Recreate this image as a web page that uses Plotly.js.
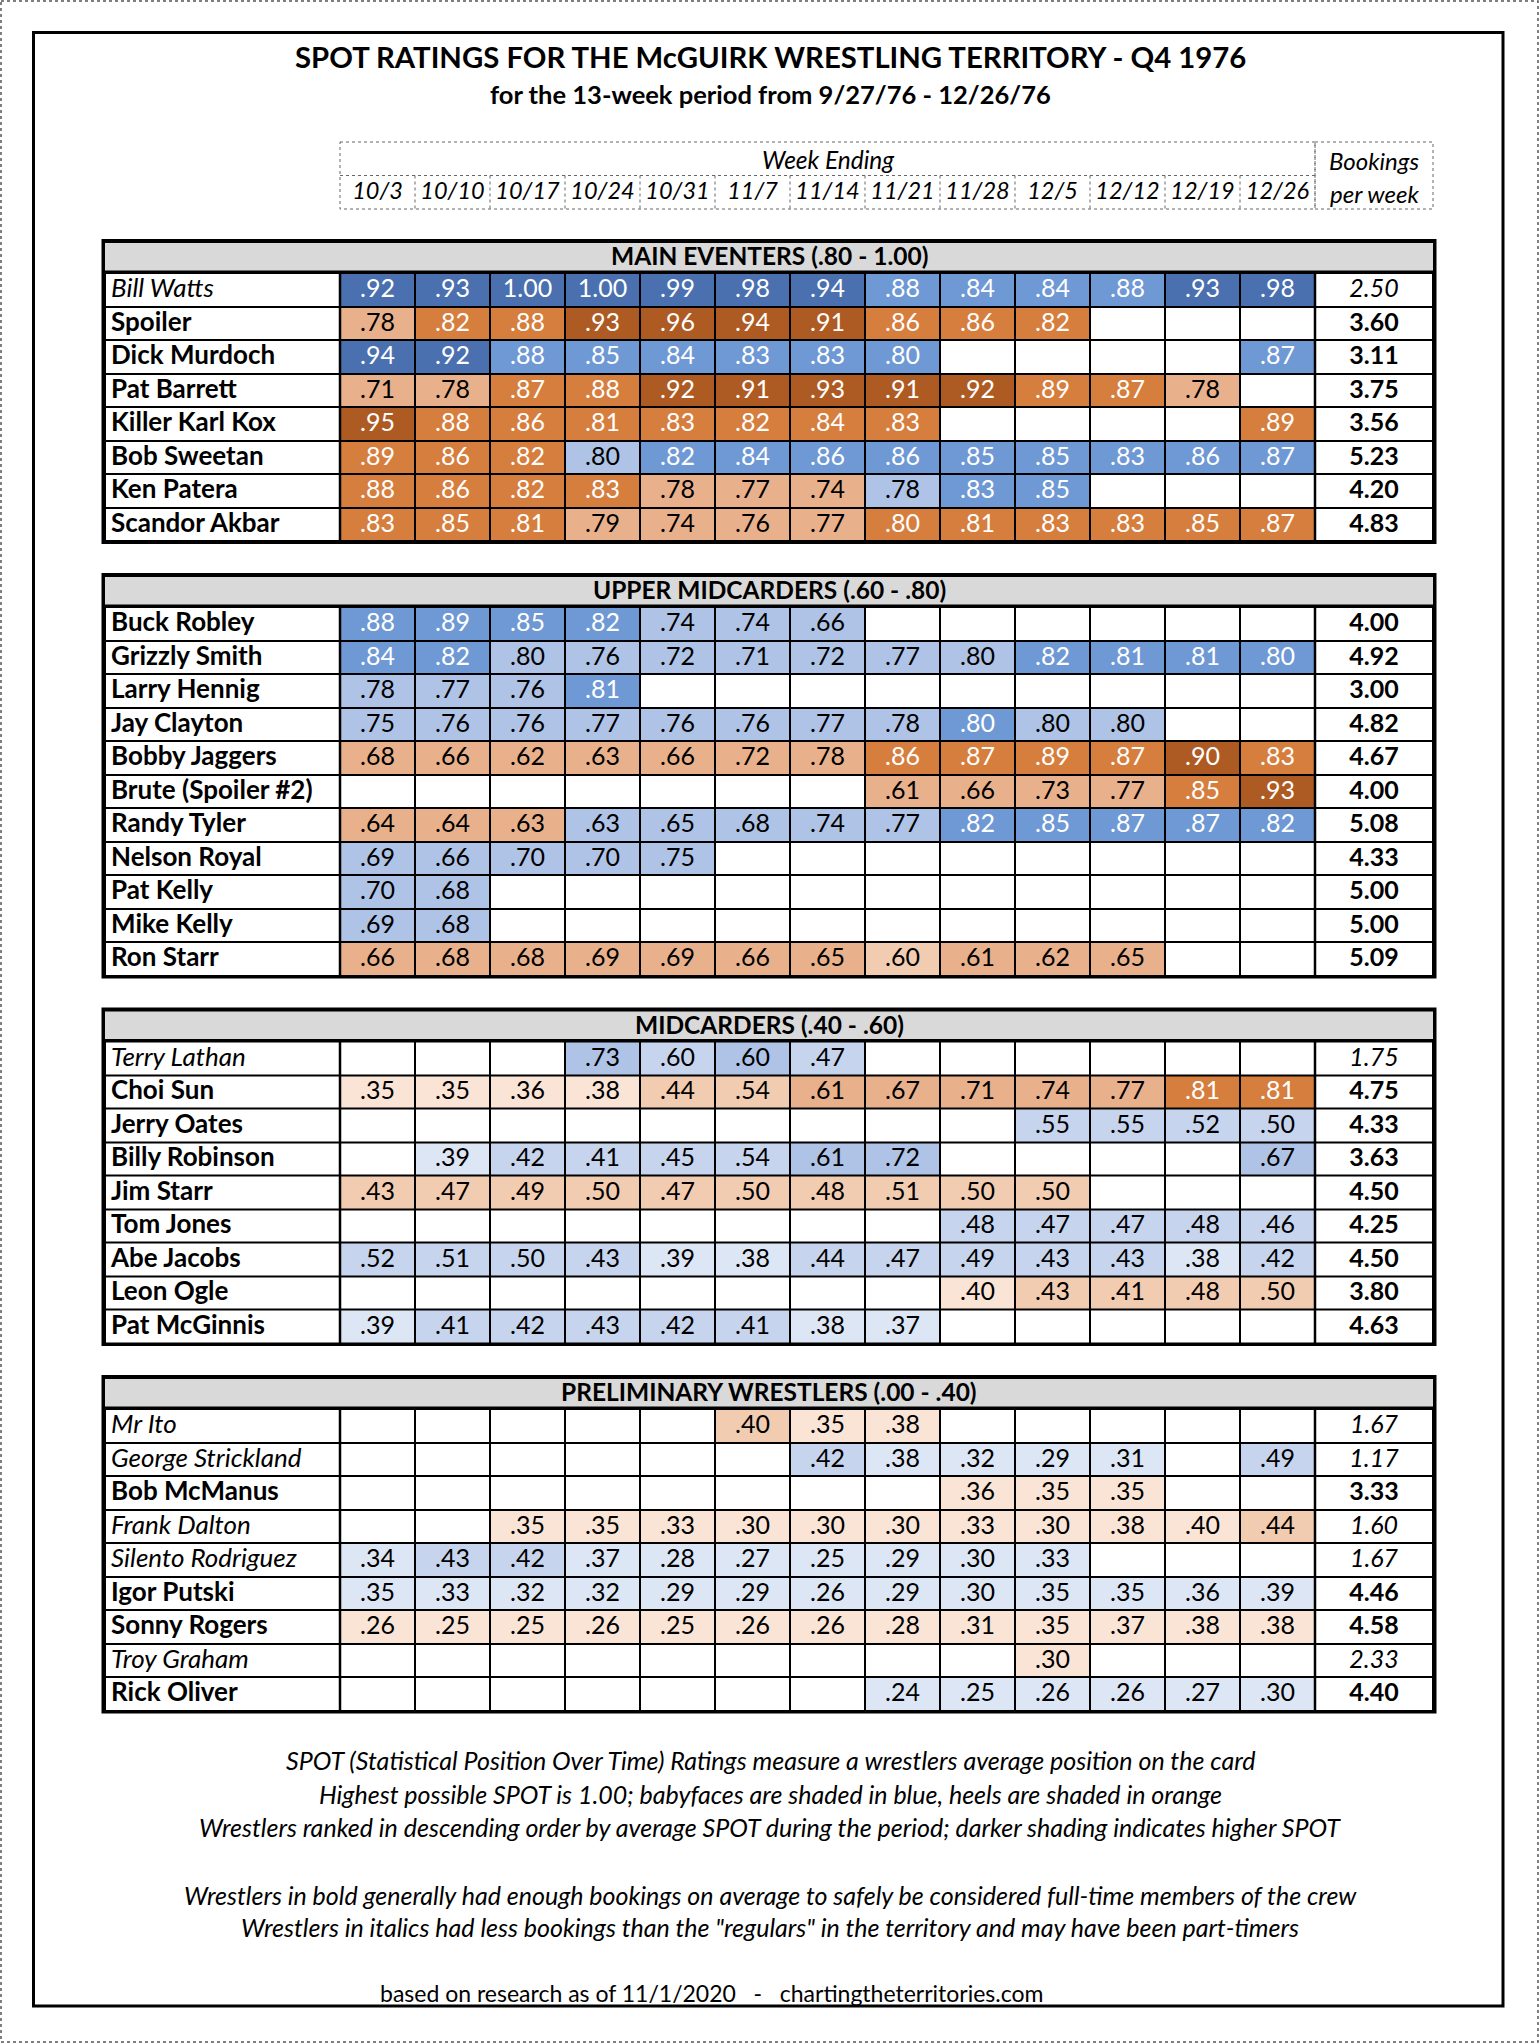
<!DOCTYPE html>
<html>
<head>
<meta charset="utf-8">
<script src="https://cdn.plot.ly/plotly-3.0.1.min.js"></script>
<style>
  html, body { margin: 0; padding: 0; background: #fff; }
  #chart { width: 1539px; height: 2043px; }
</style>
</head>
<body>
<div id="chart"></div>
<script>
// week columns
var weeks = ['10/3', '10/10', '10/17', '10/24', '10/31', '11/7', '11/14', '11/21', '11/28', '12/5', '12/12', '12/19', '12/26'];

// turn strings: F = babyface (blue), H = heel (orange), one letter per week
// regular: 1 = bold (full-time), 0 = italic (part-timer)

// MAIN EVENTERS
var mainNames = ['Bill Watts', 'Spoiler', 'Dick Murdoch', 'Pat Barrett', 'Killer Karl Kox', 'Bob Sweetan', 'Ken Patera', 'Scandor Akbar'];
var mainRegular = [0, 1, 1, 1, 1, 1, 1, 1];
var mainTurn = ['FFFFFFFFFFFFF', 'HHHHHHHHHHHHH', 'FFFFFFFFFFFFF', 'HHHHHHHHHHHHH', 'HHHHHHHHHHHHH',
                'HHHFFFFFFFFFF', 'HHHHHHHFFFFFF', 'HHHHHHHHHHHHH'];
var mainSpot = [
  [.92, .93, 1.00, 1.00, .99, .98, .94, .88, .84, .84, .88, .93, .98],
  [.78, .82, .88, .93, .96, .94, .91, .86, .86, .82, null, null, null],
  [.94, .92, .88, .85, .84, .83, .83, .80, null, null, null, null, .87],
  [.71, .78, .87, .88, .92, .91, .93, .91, .92, .89, .87, .78, null],
  [.95, .88, .86, .81, .83, .82, .84, .83, null, null, null, null, .89],
  [.89, .86, .82, .798, .82, .84, .86, .86, .85, .85, .83, .86, .87],
  [.88, .86, .82, .83, .78, .77, .74, .78, .83, .85, null, null, null],
  [.83, .85, .81, .79, .74, .76, .77, .80, .81, .83, .83, .85, .87]
];
var mainBookings = [2.50, 3.60, 3.11, 3.75, 3.56, 5.23, 4.20, 4.83];

// UPPER MIDCARDERS
var upperNames = ['Buck Robley', 'Grizzly Smith', 'Larry Hennig', 'Jay Clayton', 'Bobby Jaggers', 'Brute (Spoiler #2)',
                  'Randy Tyler', 'Nelson Royal', 'Pat Kelly', 'Mike Kelly', 'Ron Starr'];
var upperRegular = [1, 1, 1, 1, 1, 1, 1, 1, 1, 1, 1];
var upperTurn = ['FFFFFFFFFFFFF', 'FFFFFFFFFFFFF', 'FFFFFFFFFFFFF', 'FFFFFFFFFFFFF', 'HHHHHHHHHHHHH', 'HHHHHHHHHHHHH',
                 'HHHFFFFFFFFFF', 'FFFFFFFFFFFFF', 'FFFFFFFFFFFFF', 'FFFFFFFFFFFFF', 'HHHHHHHHHHHHH'];
var upperSpot = [
  [.88, .89, .85, .82, .74, .74, .66, null, null, null, null, null, null],
  [.84, .82, .798, .76, .72, .71, .72, .77, .797, .82, .81, .81, .80],
  [.78, .77, .76, .81, null, null, null, null, null, null, null, null, null],
  [.75, .76, .76, .77, .76, .76, .77, .78, .80, .798, .796, null, null],
  [.68, .66, .62, .63, .66, .72, .78, .86, .87, .89, .87, .90, .83],
  [null, null, null, null, null, null, null, .61, .66, .73, .77, .85, .93],
  [.64, .64, .63, .63, .65, .68, .74, .77, .82, .85, .87, .87, .82],
  [.69, .66, .70, .70, .75, null, null, null, null, null, null, null, null],
  [.70, .68, null, null, null, null, null, null, null, null, null, null, null],
  [.69, .68, null, null, null, null, null, null, null, null, null, null, null],
  [.66, .68, .68, .69, .69, .66, .65, .598, .61, .62, .65, null, null]
];
var upperBookings = [4.00, 4.92, 3.00, 4.82, 4.67, 4.00, 5.08, 4.33, 5.00, 5.00, 5.09];

// MIDCARDERS
var midNames = ['Terry Lathan', 'Choi Sun', 'Jerry Oates', 'Billy Robinson', 'Jim Starr', 'Tom Jones', 'Abe Jacobs', 'Leon Ogle', 'Pat McGinnis'];
var midRegular = [0, 1, 1, 1, 1, 1, 1, 1, 1];
var midTurn = ['FFFFFFFFFFFFF', 'HHHHHHHHHHHHH', 'FFFFFFFFFFFFF', 'FFFFFFFFFFFFF', 'HHHHHHHHHHHHH',
               'FFFFFFFFFFFFF', 'FFFFFFFFFFFFF', 'HHHHHHHHHHHHH', 'FFFFFFFFFFFFF'];
var midSpot = [
  [null, null, null, .73, .598, .60, .47, null, null, null, null, null, null],
  [.35, .35, .36, .38, .44, .54, .61, .67, .71, .74, .77, .81, .81],
  [null, null, null, null, null, null, null, null, null, .55, .55, .52, .50],
  [null, .39, .42, .41, .45, .54, .61, .72, null, null, null, null, .67],
  [.43, .47, .49, .50, .47, .50, .48, .51, .50, .50, null, null, null],
  [null, null, null, null, null, null, null, null, .48, .47, .47, .48, .46],
  [.52, .51, .50, .43, .39, .38, .44, .47, .49, .43, .43, .38, .42],
  [null, null, null, null, null, null, null, null, .398, .43, .41, .48, .50],
  [.39, .41, .42, .43, .42, .41, .38, .37, null, null, null, null, null]
];
var midBookings = [1.75, 4.75, 4.33, 3.63, 4.50, 4.25, 4.50, 3.80, 4.63];

// PRELIMINARY WRESTLERS
var prelimNames = ['Mr Ito', 'George Strickland', 'Bob McManus', 'Frank Dalton', 'Silento Rodriguez', 'Igor Putski',
                   'Sonny Rogers', 'Troy Graham', 'Rick Oliver'];
var prelimRegular = [0, 0, 1, 0, 0, 1, 1, 0, 1];
var prelimTurn = ['HHHHHHHHHHHHH', 'FFFFFFFFFFFFF', 'HHHHHHHHHHHHH', 'HHHHHHHHHHHHH', 'FFFFFFFFFFFFF',
                  'FFFFFFFFFFFFF', 'HHHHHHHHHHHHH', 'HHHHHHHHHHHHH', 'FFFFFFFFFFFFF'];
var prelimSpot = [
  [null, null, null, null, null, .40, .35, .38, null, null, null, null, null],
  [null, null, null, null, null, null, .42, .38, .32, .29, .31, null, .49],
  [null, null, null, null, null, null, null, null, .36, .35, .35, null, null],
  [null, null, .35, .35, .33, .30, .30, .30, .33, .30, .38, .398, .44],
  [.34, .43, .42, .37, .28, .27, .25, .29, .30, .33, null, null, null],
  [.35, .33, .32, .32, .29, .29, .26, .29, .30, .35, .35, .36, .39],
  [.26, .25, .25, .26, .25, .26, .26, .28, .31, .35, .37, .38, .38],
  [null, null, null, null, null, null, null, null, null, .30, null, null, null],
  [null, null, null, null, null, null, null, .24, .25, .26, .26, .27, .30]
];
var prelimBookings = [1.67, 1.17, 3.33, 1.60, 1.67, 4.46, 4.58, 2.33, 4.40];

var notes = [
  'SPOT (Statistical Position Over Time) Ratings measure a wrestlers average position on the card',
  'Highest possible SPOT is 1.00; babyfaces are shaded in blue, heels are shaded in orange',
  'Wrestlers ranked in descending order by average SPOT during the period; darker shading indicates higher SPOT',
  'Wrestlers in bold generally had enough bookings on average to safely be considered full-time members of the crew',
  'Wrestlers in italics had less bookings than the "regulars" in the territory and may have been part-timers'
];

// ---- layout constants ----
var W = 1539, H = 2043;
var FONT = 'Lato, "Open Sans", sans-serif';
var TX0 = 105, NAME_R = 340, COL_W = 75, BOOK_R = 1433;
var ROW_H = 33.5, HEAD_H = 34, SECTION_GAP = 32;
var CELL_SIZE = 25, NAME_SIZE = 26;

// shade palettes, lightest to darkest
var blues = ['#dde6f4', '#c6d5ed', '#aec3e5', '#6f99d4', '#4a70b0'];
var oranges = ['#fae4d5', '#f2ccb1', '#e8b18b', '#d67e3d', '#ae5b23'];
var palette = ['#ffffff'].concat(blues, oranges);
var colorscale = [];
palette.forEach(function (c, i) {
  colorscale.push([i / palette.length, c]);
  colorscale.push([(i + 1) / palette.length, c]);
});

function tier(v) {
  if (v < .4) return 0;
  if (v < .6) return 1;
  if (v < .8) return 2;
  if (v < .9) return 3;
  return 4;
}
function fmt(v) {
  return v.toFixed(2).replace(/^0/, '');
}

var xEdges = [TX0, NAME_R];
for (var i = 1; i <= weeks.length; i++) xEdges.push(NAME_R + i * COL_W);
xEdges.push(BOOK_R);
var colMid = weeks.map(function (w, i) { return NAME_R + (i + 0.5) * COL_W; });

var data = [];
var shapes = [];
var annotations = [];

function addSection(title, names, spot, turn, bookings, regular, top) {
  var rowsTop = top + HEAD_H;
  var rowsBottom = rowsTop + names.length * ROW_H;

  // black frame behind the cells, and gray title band
  shapes.push({type: 'rect', layer: 'below', x0: TX0 - 3.5, x1: BOOK_R + 3.5, y0: top, y1: rowsBottom + 3,
               fillcolor: '#000', line: {width: 0}});
  shapes.push({type: 'rect', layer: 'below', x0: TX0, x1: BOOK_R, y0: top + 4, y1: top + 31.5,
               fillcolor: '#d9d9d9', line: {width: 0}});
  annotations.push({x: (TX0 + BOOK_R) / 2, y: top + 16.5, text: '<b>' + title + '</b>', showarrow: false,
                    font: {family: FONT, size: 24.5, color: '#000'}});

  var yEdges = [rowsTop];
  names.forEach(function (n, r) { yEdges.push(rowsTop + (r + 1) * ROW_H); });

  var z = spot.map(function (row, r) {
    var cells = row.map(function (v, c) {
      if (v === null) return 0;
      var t = tier(v);
      return turn[r][c] === 'F' ? 1 + t : 6 + t;
    });
    return [0].concat(cells, [0]);
  });

  data.push({
    type: 'heatmap', x: xEdges, y: yEdges, z: z,
    zmin: -0.5, zmax: palette.length - 0.5, colorscale: colorscale,
    showscale: false, xgap: 2, ygap: 2, hoverinfo: 'skip'
  });

  // value labels
  var vx = [], vy = [], vt = [], vc = [];
  spot.forEach(function (row, r) {
    row.forEach(function (v, c) {
      if (v === null) return;
      vx.push(colMid[c]);
      vy.push(rowsTop + (r + 0.5) * ROW_H + 1);
      vt.push(fmt(v));
      vc.push(tier(v) >= 3 ? '#ffffff' : '#000000');
    });
  });
  data.push({type: 'scatter', mode: 'text', x: vx, y: vy, text: vt, hoverinfo: 'skip',
             textposition: 'middle center', textfont: {family: FONT, size: CELL_SIZE, color: vc}});

  // wrestler names
  var rowY = names.map(function (n, r) { return rowsTop + (r + 0.5) * ROW_H + 1; });
  data.push({type: 'scatter', mode: 'text', hoverinfo: 'skip',
             x: names.map(function () { return TX0 + 6; }), y: rowY,
             text: names.map(function (n, r) { return regular[r] ? '<b>' + n + '</b>' : '<i>' + n + '</i>'; }),
             textposition: 'middle right', textfont: {family: FONT, size: NAME_SIZE, color: '#000'}});

  // bookings per week
  data.push({type: 'scatter', mode: 'text', hoverinfo: 'skip',
             x: names.map(function () { return (NAME_R + weeks.length * COL_W + BOOK_R) / 2; }), y: rowY,
             text: bookings.map(function (b, r) { return regular[r] ? '<b>' + b.toFixed(2) + '</b>' : '<i>' + b.toFixed(2) + '</i>'; }),
             textposition: 'middle center', textfont: {family: FONT, size: CELL_SIZE, color: '#000'}});

  // heavier rules either side of the week columns
  [NAME_R, NAME_R + weeks.length * COL_W].forEach(function (x) {
    shapes.push({type: 'line', x0: x, x1: x, y0: rowsTop, y1: rowsBottom, line: {color: '#000', width: 2.5}});
  });

  return rowsBottom + SECTION_GAP;
}

var y = 239;
y = addSection('MAIN EVENTERS (.80 - 1.00)', mainNames, mainSpot, mainTurn, mainBookings, mainRegular, y);
y = addSection('UPPER MIDCARDERS (.60 - .80)', upperNames, upperSpot, upperTurn, upperBookings, upperRegular, y);
y = addSection('MIDCARDERS (.40 - .60)', midNames, midSpot, midTurn, midBookings, midRegular, y);
y = addSection('PRELIMINARY WRESTLERS (.00 - .40)', prelimNames, prelimSpot, prelimTurn, prelimBookings, prelimRegular, y);

// week header box (dotted)
var HB_TOP = 142, HB_MID = 175.5, HB_BOT = 209;
var WEEK_R = NAME_R + weeks.length * COL_W;
var dotted = {color: '#666', width: 1, dash: 'dot'};
shapes.push({type: 'rect', x0: NAME_R, x1: WEEK_R, y0: HB_TOP, y1: HB_BOT, line: dotted});
shapes.push({type: 'rect', x0: WEEK_R, x1: BOOK_R, y0: HB_TOP, y1: HB_BOT, line: dotted});
shapes.push({type: 'line', x0: NAME_R, x1: WEEK_R, y0: HB_MID, y1: HB_MID, line: dotted});
for (var k = 1; k < weeks.length; k++) {
  shapes.push({type: 'line', x0: NAME_R + k * COL_W, x1: NAME_R + k * COL_W, y0: HB_MID, y1: HB_BOT, line: dotted});
}
data.push({type: 'scatter', mode: 'text', hoverinfo: 'skip', x: colMid, y: weeks.map(function () { return 193; }),
           text: weeks.map(function (w) { return '<i>' + w + '</i>'; }), textposition: 'middle center',
           textfont: {family: FONT, size: 23.5, color: '#000'}});
annotations.push({x: (NAME_R + WEEK_R) / 2, y: 159, text: '<i>Week Ending</i>', showarrow: false,
                  font: {family: FONT, size: 24.5, color: '#000'}});
annotations.push({x: (WEEK_R + BOOK_R) / 2, y: 160, text: '<i>Bookings</i>', showarrow: false,
                  font: {family: FONT, size: 24, color: '#000'}});
annotations.push({x: (WEEK_R + BOOK_R) / 2, y: 193, text: '<i>per week</i>', showarrow: false,
                  font: {family: FONT, size: 24, color: '#000'}});

// page frame and outer dotted border
shapes.push({type: 'rect', x0: 33.5, x1: 1503, y0: 32.5, y1: 2006, line: {color: '#000', width: 3}});
shapes.push({type: 'rect', x0: 1, x1: W - 1, y0: 1, y1: H - 1, line: {color: '#555', width: 1.5, dash: 'dot'}});

// titles
annotations.push({x: 770, y: 56, text: '<b>SPOT RATINGS FOR THE McGUIRK WRESTLING TERRITORY - Q4 1976</b>', showarrow: false,
                  font: {family: FONT, size: 29.3, color: '#000'}});
annotations.push({x: 770, y: 94, text: '<b>for the 13-week period from 9/27/76 - 12/26/76</b>', showarrow: false,
                  font: {family: FONT, size: 25.5, color: '#000'}});

// footnotes
var noteY = [1760, 1794, 1827, 1895, 1927];
notes.forEach(function (n, i) {
  annotations.push({x: 770, y: noteY[i], text: '<i>' + n + '</i>', showarrow: false,
                    font: {family: FONT, size: 25, color: '#000'}});
});
annotations.push({x: 711, y: 1993, text: 'based on research as of 11/1/2020   -   chartingtheterritories.com', showarrow: false,
                  font: {family: FONT, size: 23, color: '#000'}});

var layout = {
  width: W, height: H,
  margin: {l: 0, r: 0, t: 0, b: 0},
  paper_bgcolor: '#ffffff', plot_bgcolor: '#ffffff',
  showlegend: false,
  xaxis: {range: [0, W], visible: false, fixedrange: true},
  yaxis: {range: [H, 0], visible: false, fixedrange: true},
  shapes: shapes,
  annotations: annotations
};

Plotly.newPlot('chart', data, layout, {staticPlot: true, displayModeBar: false});
</script>
</body>
</html>
